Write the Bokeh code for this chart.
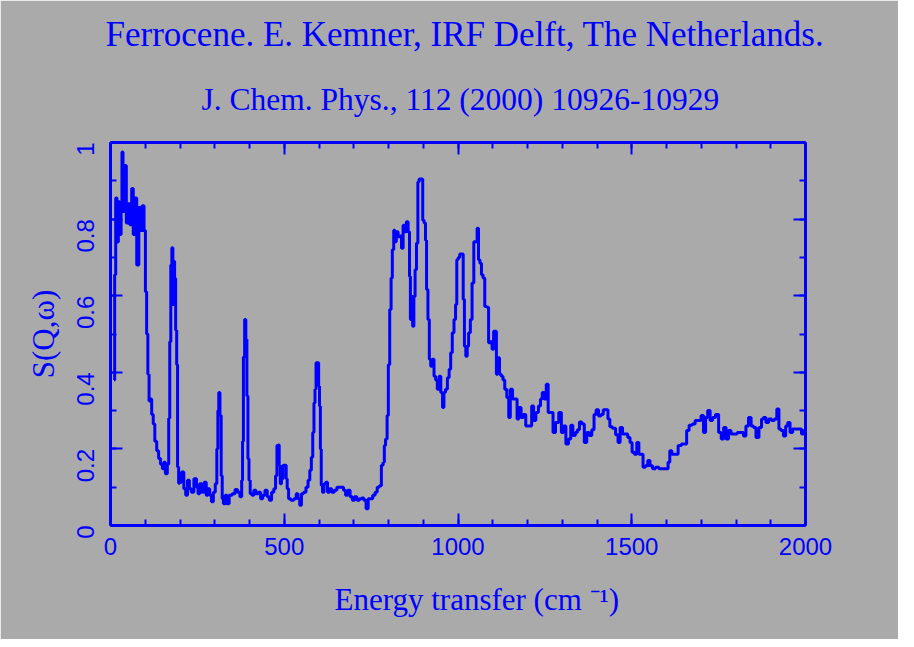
import math
from bokeh.plotting import figure
from bokeh.models import LinearAxis, SingleIntervalTicker, Title, Range1d, CustomJSTickFormatter
from bokeh.embed import file_html
from bokeh.resources import INLINE

# ---- data ----
energy = [10, 14, 16, 21, 24, 29, 32, 34, 38, 43, 48, 53, 58, 64, 67, 72, 79, 84, 88, 94, 99, 102, 106, 109, 113, 116, 121, 125, 130, 136, 141, 147, 152, 155, 161, 166, 169, 172, 175, 178, 181, 183, 186, 189, 192, 194, 198,
          201, 208, 214, 219, 224, 230, 235, 245, 250, 254, 259, 266, 273, 278, 283, 288, 293, 299, 304, 308, 310, 313, 317, 320, 323, 327, 333, 338, 345, 355, 362, 369, 376, 379, 381, 384, 388, 391, 394, 397, 400, 404, 410, 415, 422, 429, 435, 441, 448, 454, 460, 467, 473, 477, 481, 484, 487, 490, 494, 499, 504, 507, 510, 515, 523, 532, 537, 542, 547, 552, 559, 566, 571, 576, 580, 584, 587, 590, 593, 598, 600, 603, 605, 608, 612, 617, 622, 627, 633, 640, 648, 655, 667, 674, 679, 686, 693, 699, 705, 713, 720, 726, 732, 739, 744, 751, 758, 765, 770, 777, 782, 787, 789, 794, 798,
          801, 806, 809, 813, 817, 820, 825, 830, 835, 840, 844, 849, 854, 859, 862, 864, 868, 871, 875, 878, 883, 886, 890, 897, 900, 905, 908, 911, 916, 919, 924, 929, 933, 938, 943, 948, 953, 958, 961, 967, 972, 977, 981, 986, 991, 995, 998,
          1003, 1007, 1013, 1017, 1020, 1025, 1028, 1033, 1038, 1043, 1048, 1053, 1057, 1061, 1065, 1070, 1074, 1080, 1086, 1090, 1096, 1100, 1105, 1109, 1112, 1117, 1122, 1127, 1132, 1137, 1144, 1148, 1153, 1161, 1168, 1172, 1178, 1185, 1191, 1199, 1209, 1215, 1220, 1228, 1235, 1240, 1245, 1251, 1257, 1262, 1271, 1276, 1285, 1295, 1300, 1307, 1314, 1322, 1327, 1334, 1341, 1346, 1353, 1360, 1367, 1374, 1381, 1389, 1394, 1401, 1408, 1415, 1421, 1429, 1434, 1440, 1449, 1458, 1463, 1470, 1477, 1485, 1492, 1498,
          1504, 1511, 1518, 1523, 1530, 1535, 1543, 1549, 1556, 1564, 1573, 1583, 1592, 1602, 1607, 1612, 1619, 1629, 1638, 1648, 1655, 1661, 1669, 1679, 1686, 1696, 1703, 1710, 1715, 1722, 1729, 1736, 1746, 1754, 1761, 1768, 1775, 1782, 1789, 1799, 1808, 1818, 1825, 1832, 1840, 1847, 1854, 1861, 1871, 1876, 1882, 1890, 1898, 1907, 1914, 1921, 1926, 1933, 1940, 1946, 1952, 1959, 1967, 1976, 1986, 1991, 1997]
s_q_w = [0.38, 0.655, 0.855, 0.74, 0.845, 0.76, 0.82, 0.975, 0.82, 0.94, 0.79, 0.84, 0.785, 0.88, 0.76, 0.855, 0.68, 0.83, 0.77, 0.835, 0.77, 0.61, 0.50, 0.395, 0.325, 0.33, 0.29, 0.265, 0.22, 0.195, 0.175, 0.16, 0.148, 0.165, 0.135, 0.16, 0.28, 0.48, 0.68, 0.725, 0.577, 0.69, 0.645, 0.51, 0.42, 0.153, 0.11,
         0.113, 0.14, 0.096, 0.079, 0.118, 0.096, 0.087, 0.122, 0.10, 0.083, 0.109, 0.087, 0.113, 0.079, 0.096, 0.079, 0.062, 0.087, 0.109, 0.20, 0.30, 0.347, 0.287, 0.13, 0.07, 0.057, 0.079, 0.057, 0.079, 0.083, 0.094, 0.087, 0.075, 0.118, 0.22, 0.44, 0.538, 0.486, 0.338, 0.174, 0.118, 0.083, 0.079, 0.092, 0.083, 0.087, 0.07, 0.079, 0.092, 0.075, 0.066, 0.087, 0.096, 0.13, 0.209, 0.21, 0.157, 0.109, 0.122, 0.157, 0.157, 0.122, 0.096, 0.07, 0.066, 0.07, 0.083, 0.07, 0.053, 0.083, 0.087, 0.10, 0.118, 0.144, 0.178, 0.243, 0.32, 0.356, 0.425, 0.425, 0.364, 0.312, 0.20, 0.105, 0.087, 0.109, 0.113, 0.087, 0.096, 0.087, 0.092, 0.10, 0.10, 0.092, 0.079, 0.092, 0.075, 0.066, 0.075, 0.066, 0.07, 0.072, 0.066, 0.044, 0.07, 0.07, 0.079, 0.087, 0.10, 0.104, 0.157, 0.165, 0.209, 0.226, 0.287,
         0.42, 0.564, 0.646, 0.72, 0.771, 0.741, 0.767, 0.754, 0.756, 0.724, 0.784, 0.767, 0.793, 0.767, 0.65, 0.538, 0.598, 0.52, 0.598, 0.668, 0.737, 0.897, 0.905, 0.905, 0.797, 0.79, 0.745, 0.616, 0.538, 0.434, 0.416, 0.434, 0.39, 0.38, 0.356, 0.39, 0.347, 0.308, 0.347, 0.356, 0.386, 0.408, 0.451, 0.503, 0.538, 0.577, 0.694,
         0.70, 0.709, 0.709, 0.59, 0.468, 0.442, 0.468, 0.503, 0.538, 0.633, 0.741, 0.741, 0.776, 0.694, 0.685, 0.655, 0.646, 0.572, 0.57, 0.477, 0.48, 0.46, 0.507, 0.507, 0.395, 0.438, 0.395, 0.39, 0.38, 0.356, 0.334, 0.282, 0.356, 0.33, 0.33, 0.278, 0.308, 0.282, 0.29, 0.26, 0.26, 0.312, 0.274, 0.295, 0.312, 0.33, 0.347, 0.33, 0.369, 0.295, 0.295, 0.243, 0.269, 0.295, 0.243, 0.26, 0.213, 0.226, 0.262, 0.235, 0.243, 0.25, 0.27, 0.265, 0.217, 0.243, 0.235, 0.25, 0.29, 0.302, 0.286, 0.29, 0.302, 0.302, 0.278, 0.258, 0.254, 0.237, 0.217, 0.256, 0.239, 0.239, 0.23, 0.217,
         0.191, 0.186, 0.217, 0.186, 0.186, 0.152, 0.156, 0.17, 0.156, 0.148, 0.152, 0.148, 0.148, 0.148, 0.165, 0.195, 0.186, 0.186, 0.209, 0.213, 0.213, 0.248, 0.262, 0.265, 0.274, 0.274, 0.287, 0.243, 0.282, 0.30, 0.274, 0.282, 0.29, 0.243, 0.226, 0.256, 0.226, 0.248, 0.239, 0.239, 0.243, 0.243, 0.234, 0.26, 0.282, 0.26, 0.256, 0.23, 0.256, 0.278, 0.282, 0.269, 0.278, 0.274, 0.278, 0.304, 0.252, 0.248, 0.234, 0.26, 0.269, 0.243, 0.252, 0.252, 0.252, 0.239, 0.248]

title_1 = "Ferrocene. E. Kemner, IRF Delft, The Netherlands."
title_2 = "J. Chem. Phys., 112 (2000) 10926-10929"
x_label = "Energy transfer (cm \u207b\u00b9)"
y_label = "S(Q,\u03c9)"

BG = "#AAAAAA"
BLUE = "#0000FF"
SERIF = "Liberation Serif"
SANS = "Liberation Sans"

p = figure(width=898, height=639, output_backend="svg", toolbar_location=None, title=None,
           x_range=Range1d(0, 2000), y_range=Range1d(0, 1),
           min_border_left=110, min_border_right=93, min_border_top=142, min_border_bottom=112,
           background_fill_color=BG, border_fill_color=BG, outline_line_color=None)
p.xgrid.visible = False
p.ygrid.visible = False

p.step(energy, s_q_w, mode="center", line_color=BLUE, line_width=3)

def style_axis(ax, interval, minor, show_labels):
    ax.ticker = SingleIntervalTicker(interval=interval, num_minor_ticks=minor)
    ax.axis_line_color = BLUE
    ax.axis_line_width = 3
    ax.major_tick_line_color = BLUE
    ax.major_tick_line_width = 2
    ax.minor_tick_line_color = BLUE
    ax.minor_tick_line_width = 2
    ax.major_tick_in = 12
    ax.major_tick_out = 0
    ax.minor_tick_in = 6
    ax.minor_tick_out = 0
    ax.major_label_text_color = BLUE
    ax.major_label_text_font = SANS
    ax.major_label_text_font_size = "24px"
    if not show_labels:
        ax.major_label_text_alpha = 0
        ax.major_label_text_font_size = "1px"

xa = p.xaxis[0]
style_axis(xa, 500, 5, True)
xa.major_label_standoff = 12

ya = p.yaxis[0]
style_axis(ya, 0.2, 2, True)
ya.major_label_orientation = math.pi / 2
ya.major_label_standoff = 25
ya.formatter = CustomJSTickFormatter(code="return String(Math.round(tick*10)/10);")

top = LinearAxis()
style_axis(top, 500, 5, False)
p.add_layout(top, "above")
right = LinearAxis()
style_axis(right, 0.2, 2, False)
p.add_layout(right, "right")

def ttl(text, size, side, align, offset, standoff):
    t = Title(text=text, text_font=SERIF, text_font_size=size, text_color=BLUE,
              text_font_style="normal", align=align, offset=offset, standoff=standoff)
    p.add_layout(t, side)

ttl(title_2, "31.5px", "above", "left", 91, 51)
ttl(title_1, "35px", "above", "left", -5, 1)
ttl(x_label, "31px", "below", "left", 224, 45)
ttl(y_label, "31px", "left", "center", 0, 10)

open("out.html", "w").write(file_html(p, INLINE))
